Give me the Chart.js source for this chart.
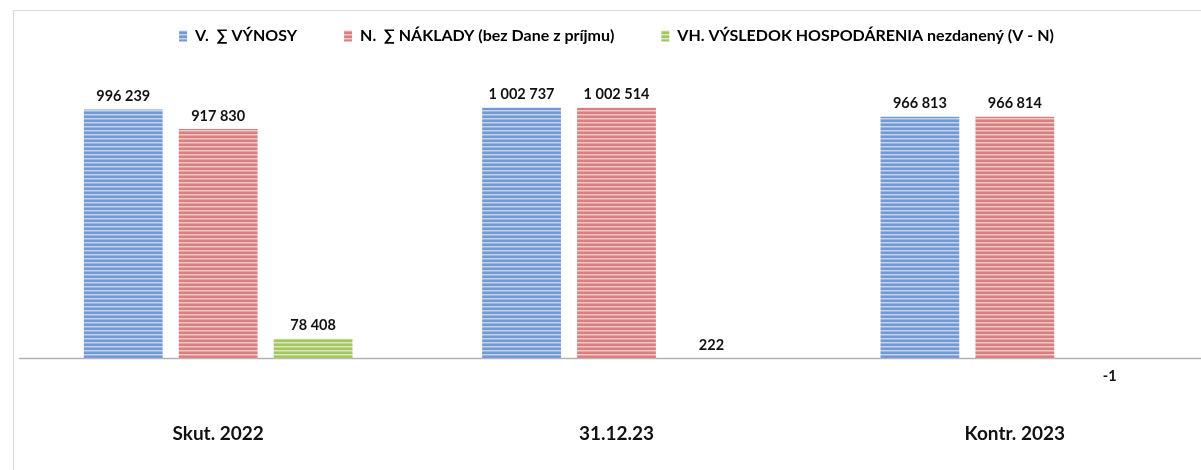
<!DOCTYPE html>
<html>
<head>
<meta charset="utf-8">
<script src="https://cdn.jsdelivr.net/npm/chart.js@4.4.1/dist/chart.umd.min.js"></script>
<style>
  html, body { margin: 0; padding: 0; background: #fff; overflow: hidden; }
  #frame { position: absolute; left: 13px; top: 10px; width: 1300px; height: 500px; border: 1px solid #d9d9d9; }
  #wrap { position: absolute; left: 0; top: 0; width: 1214px; height: 470px; }
</style>
</head>
<body>
<div id="frame"></div>
<div id="wrap"><canvas id="chart"></canvas></div>
<script>
'use strict';

/* ── DATA ─────────────────────────── */
const categories = ['Skut. 2022', '31.12.23', 'Kontr. 2023'];
const vynosy     = [996239, 1002737, 966813];
const naklady    = [917830, 1002514, 966814];
const vysledok   = [78408, 222, -1];
const seriesNames = [
  'V.  \u2211 VÝNOSY',
  'N.  \u2211 NÁKLADY (bez Dane z príjmu)',
  'VH. VÝSLEDOK HOSPODÁRENIA nezdanený (V - N)',
];

/* ── STRIPED FILLS ─────────────────────────── */
function stripes(dark, light, mid) {
  const c = document.createElement('canvas');
  c.width = 4; c.height = 4;
  const x = c.getContext('2d');
  x.fillStyle = dark;  x.fillRect(0, 0, 4, 2);
  x.fillStyle = light; x.fillRect(0, 2, 4, 1);
  x.fillStyle = mid;   x.fillRect(0, 3, 4, 1);
  return x.createPattern(c, 'repeat');
}
const blueFill  = stripes('#7399d2', '#c3d3ee', '#98b4e0');
const redFill   = stripes('#d97f7f', '#f3c6c6', '#e6a3a3');
const greenFill = stripes('#a3c562', '#d9e9b8', '#bcd68d');

const fmt = v => String(v).replace(/\B(?=(\d{3})+(?!\d))/g, ' ');
const FONT = 'Lato, "Open Sans", sans-serif';

/* ── VALUE LABELS + ZERO LINE ─────────────────────────── */
const valueLabels = {
  id: 'valueLabels',
  beforeDatasetsDraw(chart) {
    const { ctx, chartArea } = chart;
    const y0 = Math.round(chart.scales.y.getPixelForValue(0)) + 0.5;
    ctx.save();
    ctx.strokeStyle = '#b3b3b3';
    ctx.lineWidth = 1.5;
    ctx.beginPath();
    ctx.moveTo(chartArea.left, y0);
    ctx.lineTo(chartArea.right, y0);
    ctx.stroke();
    ctx.restore();
  },
  afterDatasetsDraw(chart) {
    const ctx = chart.ctx;
    ctx.save();
    ctx.font = 'bold 14.5px ' + FONT;
    ctx.fillStyle = '#111';
    ctx.textAlign = 'center';
    ctx.textBaseline = 'middle';
    chart.data.datasets.forEach((ds, i) => {
      chart.getDatasetMeta(i).data.forEach((bar, j) => {
        const v = ds.data[j];
        const y = v >= 0 ? bar.y - 13 : bar.y + 18;
        ctx.fillText(fmt(v), bar.x, y);
      });
    });
    ctx.restore();
  },
};

new Chart(document.getElementById('chart'), {
  type: 'bar',
  data: {
    labels: categories,
    datasets: [
      { label: seriesNames[0], data: vynosy,   backgroundColor: blueFill },
      { label: seriesNames[1], data: naklady,  backgroundColor: redFill },
      { label: seriesNames[2], data: vysledok, backgroundColor: greenFill },
    ],
  },
  options: {
    responsive: true,
    maintainAspectRatio: false,
    animation: false,
    categoryPercentage: 0.715,
    barPercentage: 0.83,
    layout: { padding: { left: 19, right: 0, top: 16, bottom: 11 } },
    plugins: {
      tooltip: { enabled: false },
      legend: {
        labels: {
          color: '#111',
          font: { family: FONT, size: 16, weight: 'bold' },
          boxWidth: 8,
          boxHeight: 11,
          padding: 12,
          generateLabels: chart => chart.data.datasets.map((ds, i) => ({
            text: ds.label + (i < 2 ? '         ' : ''),
            fillStyle: ds.backgroundColor,
            strokeStyle: 'transparent',
            lineWidth: 0,
            datasetIndex: i,
          })),
        },
      },
    },
    scales: {
      x: {
        grid: { display: false },
        border: { display: false },
        ticks: { color: '#111', padding: 14, font: { family: FONT, size: 19, weight: 'bold' } },
      },
      y: {
        min: -168000,
        max: 1218000,
        ticks: { display: false },
        border: { display: false },
        grid: { display: false, drawTicks: false },
      },
    },
  },
  plugins: [valueLabels],
});
</script>
</body>
</html>
